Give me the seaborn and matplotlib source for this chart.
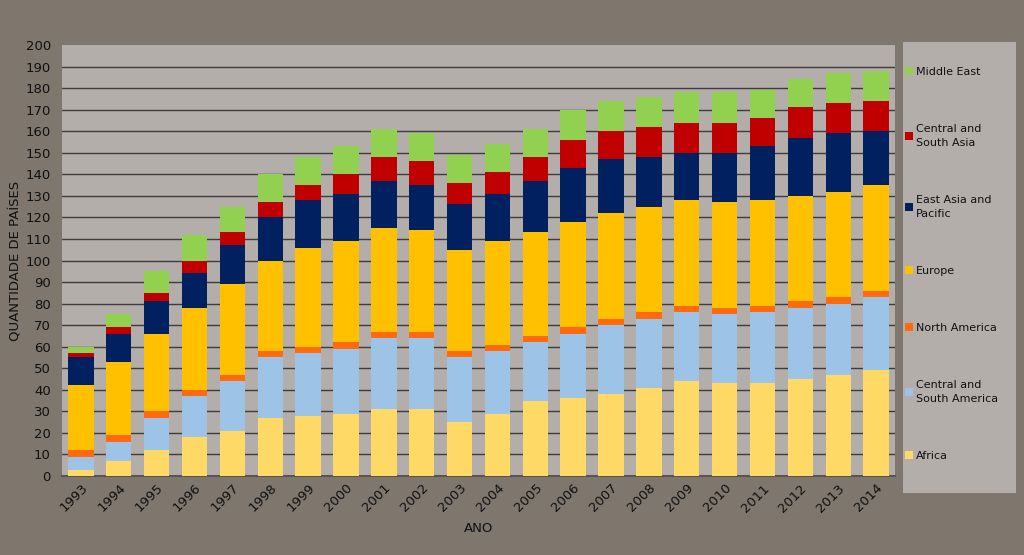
import matplotlib
matplotlib.use("Agg")
import matplotlib.pyplot as plt
import matplotlib.patches as mpatches
import numpy as np
import pandas as pd
import seaborn as sns

years = [str(y) for y in range(1993, 2015)]
africa       = [3, 7, 12, 18, 21, 27, 28, 29, 31, 31, 25, 29, 35, 36, 38, 41, 44, 43, 43, 45, 47, 49]
c_s_america  = [6, 9, 15, 19, 23, 28, 29, 30, 33, 33, 30, 29, 27, 30, 32, 32, 32, 32, 33, 33, 33, 34]
n_america    = [3, 3, 3, 3, 3, 3, 3, 3, 3, 3, 3, 3, 3, 3, 3, 3, 3, 3, 3, 3, 3, 3]
europe       = [30, 34, 36, 38, 42, 42, 46, 47, 48, 47, 47, 48, 48, 49, 49, 49, 49, 49, 49, 49, 49, 49]
east_asia    = [13, 13, 15, 16, 18, 20, 22, 22, 22, 21, 21, 22, 24, 25, 25, 23, 22, 23, 25, 27, 27, 25]
c_s_asia     = [2, 3, 4, 6, 6, 7, 7, 9, 11, 11, 10, 10, 11, 13, 13, 14, 14, 14, 13, 14, 14, 14]
middle_east  = [3, 6, 10, 12, 12, 13, 13, 13, 13, 13, 13, 13, 13, 14, 14, 14, 14, 14, 13, 13, 14, 14]

series_names = ["Africa", "Central and\nSouth America", "North America", "Europe",
                "East Asia and\nPacific", "Central and\nSouth Asia", "Middle East"]
series_vals = [africa, c_s_america, n_america, europe, east_asia, c_s_asia, middle_east]
colors = ["#ffd966", "#9dc3e6", "#ff6a10", "#ffc000", "#002060", "#c00000", "#92d050"]

FIG_BG = "#7f766d"
AX_BG = "#b4aeaa"
TXT = "#111111"

sns.set_theme(style="white")
plt.rcParams["font.family"] = ["DejaVu Sans"]

fig = plt.figure(figsize=(10.24, 5.55), dpi=100, facecolor=FIG_BG)
ax = fig.add_axes([62/1024, 1 - 476/555, (895 - 62)/1024, (476 - 45)/555])
ax.set_facecolor(AX_BG)

cum = np.cumsum(np.array(series_vals), axis=0)
df = pd.DataFrame({"year": years})
# draw tallest stack first, each later one covers the lower part
for i in range(len(series_names) - 1, -1, -1):
    df["v"] = cum[i]
    sns.barplot(data=df, x="year", y="v", color=colors[i], width=0.67,
                linewidth=0, saturation=1, ax=ax, label=series_names[i], zorder=3)

ax.set_ylim(0, 200)
ax.set_xlim(-0.5, len(years) - 0.5)
ax.set_yticks(range(0, 201, 10))
for v in range(10, 200, 10):
    ax.axhline(v, color="#3c3c3c", lw=1.0, zorder=1)
for s in ["top", "right", "left"]:
    ax.spines[s].set_visible(False)
ax.spines["bottom"].set_color("#5a5550")
ax.spines["bottom"].set_linewidth(1.5)

ax.tick_params(axis="y", labelsize=9.5, colors=TXT, length=0, pad=8)
ax.tick_params(axis="x", labelsize=9.5, colors=TXT, length=0, pad=4)
for lab in ax.get_xticklabels():
    lab.set_rotation(45)
    lab.set_ha("right")
    lab.set_rotation_mode("anchor")

ax.set_xlabel("ANO", fontsize=9.5, color=TXT, labelpad=5)
ax.set_ylabel("QUANTIDADE DE PAÍSES", fontsize=9.5, color=TXT, labelpad=2)

# legend panel
fig.patches.append(mpatches.Rectangle((903/1024, 1 - 493/555), (1016 - 903)/1024, (493 - 42)/555,
                                      transform=fig.transFigure, facecolor=AX_BG,
                                      edgecolor="none", zorder=0))
h, l = ax.get_legend_handles_labels()
if ax.legend_:
    ax.legend_.remove()
leg = fig.legend(h, l, loc="upper left", bbox_to_anchor=(905/1024, 1 - 67/555),
                 frameon=False, fontsize=8, labelcolor=TXT, handlelength=0.7,
                 handleheight=0.7, handletextpad=0.3, labelspacing=4.25,
                 borderaxespad=0, borderpad=0)
for t in leg.get_texts():
    t.set_linespacing(1.45)

fig.savefig("out.png", dpi=100, facecolor=FIG_BG)
